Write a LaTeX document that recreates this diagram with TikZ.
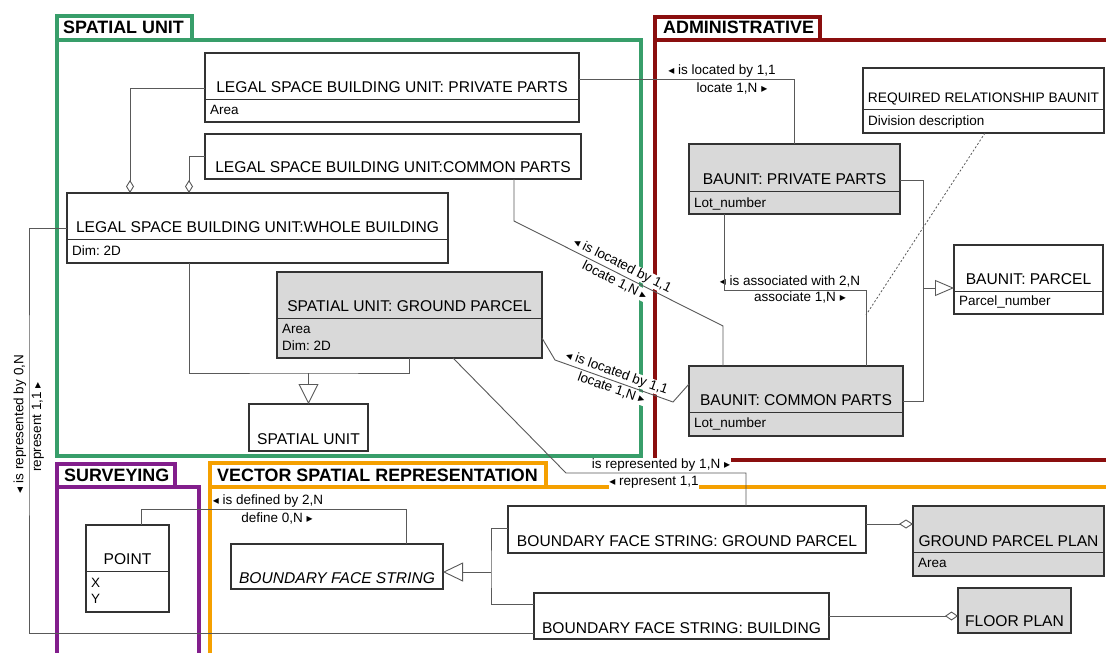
\documentclass[tikz,border=0pt]{standalone}
\usepackage{fontspec}
\setmainfont{Liberation Sans}
\newfontfamily\symf{DejaVu Sans}
\usetikzlibrary{arrows.meta}
\definecolor{frgreen}{RGB}{56,158,106}
\definecolor{frred}{RGB}{138,14,14}
\definecolor{frpurple}{RGB}{130,30,140}
\definecolor{frorange}{RGB}{245,160,0}
\definecolor{boxgray}{RGB}{217,217,217}
\newcommand{\tril}{{\symf\fontsize{12}{12}\selectfont ◂}}
\newcommand{\trir}{{\symf\fontsize{12}{12}\selectfont ▸}}
\frenchspacing
\begin{document}
\begin{tikzpicture}[x=1pt,y=-1pt,
 frame/.style={line width=3.6pt},
 cls/.style={draw=black!80, line width=1.3pt, inner sep=0pt, outer sep=0pt},
 ttl/.style={font=\fontsize{15.6}{17}\selectfont, inner sep=0pt, anchor=base},
 attr/.style={font=\fontsize{13.5}{15}\selectfont, inner sep=0pt, anchor=base west},
 divl/.style={draw=black!80, line width=1pt},
 conn/.style={draw=black!65, line width=0.9pt},
 lbl/.style={font=\fontsize{13.5}{15}\selectfont, inner sep=0.5pt},
 lblw/.style={lbl, fill=white},
 ftitle/.style={font=\bfseries\fontsize{17.9}{19}\selectfont, inner sep=0pt, anchor=base west},
 assoc/.style={draw=black!65, line width=0.8pt, dash pattern=on 2pt off 2pt},
]
\useasboundingbox[fill=white] (0,0) rectangle (1106,653);

% ---------- frames ----------
\draw[frame, frgreen] (57,16) rectangle (192,40);
\draw[frame, frgreen] (57,40) rectangle (641,456);
\draw[frame, frred] (655,17) rectangle (820,40);
\draw[frame, frred] (1106,40) -- (655,40) -- (655,460) -- (1106,460);
\draw[frame, frpurple] (57,464) rectangle (175,487);
\draw[frame, frpurple] (57,653) -- (57,487) -- (199,487) -- (199,653);
\draw[frame, frorange] (210,463) rectangle (546,487);
\draw[frame, frorange] (210,653) -- (210,487) -- (1106,487);

\node[ftitle] (tSU) at (63,34) {SPATIAL UNIT};
\node[ftitle] (tAD) at (663,34) {ADMINISTRATIVE};
\node[ftitle] (tSV) at (64,481) {SURVEYING};
\node[ftitle] (tVS) at (217,481) {VECTOR SPATIAL REPRESENTATION};

% ---------- classes ----------
\node[cls, fill=white, minimum width=374pt, minimum height=69pt] (lpp) at (392,87.5) {};
\draw[divl] (205,99) -- (579,99);
\node[ttl] (lppT) at (392,92) {LEGAL SPACE BUILDING UNIT: PRIVATE PARTS};
\node[attr] (lppA) at (210,114) {Area};

\node[cls, fill=white, minimum width=376pt, minimum height=45pt] (lcp) at (393,156.5) {};
\node[ttl] (lcpT) at (393,172) {LEGAL SPACE BUILDING UNIT:COMMON PARTS};

\node[cls, fill=white, minimum width=381pt, minimum height=70pt] (lwb) at (257.5,228) {};
\draw[divl] (67,239) -- (448,239);
\node[ttl] (lwbT) at (257.5,232) {LEGAL SPACE BUILDING UNIT:WHOLE BUILDING};
\node[attr] (lwbA) at (72,255) {Dim: 2D};

\node[cls, fill=boxgray, minimum width=265pt, minimum height=86pt] (sgp) at (409.5,315) {};
\draw[divl] (277,318) -- (542,318);
\node[ttl] (sgpT) at (409.5,311) {SPATIAL UNIT: GROUND PARCEL};
\node[attr] (sgpA) at (282,333) {Area};
\node[attr] (sgpB) at (282,350) {Dim: 2D};

\node[cls, fill=white, minimum width=119pt, minimum height=47pt] (su) at (308.5,427.5) {};
\node[ttl] (suT) at (308.5,444) {SPATIAL UNIT};

\node[cls, fill=boxgray, minimum width=211pt, minimum height=70pt] (bpp) at (794.5,179) {};
\draw[divl] (689,191) -- (900,191);
\node[ttl] (bppT) at (794.5,184) {BAUNIT: PRIVATE PARTS};
\node[attr] (bppA) at (694,207) {Lot\_number};

\node[cls, fill=white, minimum width=241pt, minimum height=65pt] (rrb) at (983.5,100.5) {};
\draw[divl] (863,109) -- (1104,109);
\node[ttl, font=\fontsize{13.8}{15}\selectfont] (rrbT) at (983.5,102) {REQUIRED RELATIONSHIP BAUNIT};
\node[attr] (rrbA) at (868,125) {Division description};

\node[cls, fill=white, minimum width=149pt, minimum height=69pt] (bpa) at (1028.5,279.5) {};
\draw[divl] (954,291) -- (1103,291);
\node[ttl] (bpaT) at (1028.5,284) {BAUNIT: PARCEL};
\node[attr] (bpaA) at (959,305) {Parcel\_number};

\node[cls, fill=boxgray, minimum width=214pt, minimum height=70pt] (bcp) at (796,401) {};
\draw[divl] (689,412) -- (903,412);
\node[ttl] (bcpT) at (796,405) {BAUNIT: COMMON PARTS};
\node[attr] (bcpA) at (694,427) {Lot\_number};

\node[cls, fill=white, minimum width=83pt, minimum height=87pt] (point) at (127.5,568.5) {};
\draw[divl] (86,571) -- (169,571);
\node[ttl] (pointT) at (127.5,564) {POINT};
\node[attr] (pointX) at (91,587) {X};
\node[attr] (pointY) at (91,603) {Y};

\node[cls, fill=white, minimum width=212pt, minimum height=45pt] (bfs) at (337,566.5) {};
\node[ttl] (bfsT) at (337,583) {\itshape BOUNDARY FACE STRING};

\node[cls, fill=white, minimum width=358pt, minimum height=47pt] (bgp) at (687,529.5) {};
\node[ttl] (bgpT) at (687,546) {BOUNDARY FACE STRING: GROUND PARCEL};

\node[cls, fill=white, minimum width=295pt, minimum height=46pt] (bbu) at (681.5,616) {};
\node[ttl] (bbuT) at (681.5,633) {BOUNDARY FACE STRING: BUILDING};

\node[cls, fill=boxgray, minimum width=191pt, minimum height=70pt] (gpp) at (1008.5,541) {};
\draw[divl] (913,552) -- (1104,552);
\node[ttl] (gppT) at (1008.5,546) {GROUND PARCEL PLAN};
\node[attr] (gppA) at (918,567) {Area};

\node[cls, fill=boxgray, minimum width=113pt, minimum height=45pt] (flp) at (1014.5,610.5) {};
\node[ttl] (flpT) at (1014.5,626) {FLOOR PLAN};

% ---------- labels (drawn before connectors) ----------
\node[lbl] (lA1) at (722,71) {\tril\ is located by 1,1};
\node[lbl] (lA2) at (732,88) {locate 1,N \trir};
\node[lbl, rotate=90] (lD1) at (20,424) {\tril\ is represented by 0,N};
\node[lbl, rotate=90] (lD2) at (38,427) {represent 1,1 \trir};
\node[lblw] (lH1) at (661,465) {is represented by 1,N \trir};
\node[lblw] (lH2) at (654,482) {\tril\ represent 1,1};
\node[lbl] (lJ1) at (790,281) {\tril\ is associated with 2,N};
\node[lbl] (lJ2) at (800,297) {associate 1,N \trir};
\node[lbl] (lL1) at (268,501) {\tril\ is defined by 2,N};
\node[lbl] (lL2) at (277,518) {define 0,N \trir};

% ---------- helper coordinates ----------
\coordinate (cD) at (29,400);
\coordinate (cE) at (308.5,373);
\coordinate (cF1) at (514,221);
\coordinate (cF2) at (723,326);
\coordinate (cG1) at (555,360);
\coordinate (cG2) at (673,402);
\coordinate (cH) at (566,473);
\coordinate (cI) at (923,288);
\coordinate (cJ) at (866,290);
\coordinate (cK) at (866,315);
\coordinate (cL) at (406,509);
\coordinate (cM) at (491,572);

% ---------- connectors ----------
\draw[conn] ([yshift=8.5pt]lpp.east) -| (bpp.north);
\draw[conn, -{Diamond[open,length=13pt,width=8pt]}] ([yshift=-0.5pt]lpp.west) -| ([xshift=-127.5pt]lwb.north);
\draw[conn, -{Diamond[open,length=13pt,width=8pt]}] ([yshift=0.5pt]lcp.west) -| ([xshift=-68.5pt]lwb.north);
\draw[conn] (lwb.west) -| (cD) |- ([yshift=-17pt]bbu.west);
\draw[conn] ([xshift=-68.5pt]lwb.south) |- (cE) -| (sgp.south);
\draw[conn, -{Triangle[open,length=20pt,width=20pt]}] (cE) -- (su.north);
\draw[conn] ([xshift=121pt]lcp.south) -- (cF1)
  -- node[lblw, sloped, above=1.5pt] (lF1) {\tril\ is located by 1,1}
     node[lblw, sloped, below=1.5pt] (lF2) {locate 1,N \trir} (cF2)
  -- ([xshift=-73pt]bcp.north);
\draw[conn] ([yshift=-23pt]sgp.east) -- (cG1)
  -- node[lblw, sloped, above=1pt] (lG1) {\tril\ is located by 1,1}
     node[lblw, sloped, below=1pt] (lG2) {locate 1,N \trir} (cG2)
  -- ([yshift=17pt]bcp.west);
\draw[conn] ([xshift=43.5pt]sgp.south) -- (cH) -| ([xshift=59pt]bgp.north);
\draw[conn] ([yshift=-1pt]bpp.east) -| (cI) |- (bcp.east);
\draw[conn, -{Triangle[open,length=19pt,width=16pt]}] (cI) -- ([yshift=-8.5pt]bpa.west);
\draw[conn] ([xshift=-70.5pt]bpp.south) |- (cJ) -- ([xshift=70pt]bcp.north);
\draw[assoc] ([xshift=1.5pt]rrb.south) -- (cK);
\draw[conn] ([xshift=13.5pt]point.north) |- (cL) -- ([xshift=69pt]bfs.north);
\draw[conn] ([yshift=1.5pt]bgp.west) -| (cM) |- ([yshift=12pt]bbu.west);
\draw[conn, -{Triangle[open,length=20pt,width=19pt]}] (cM) -- ([yshift=-5.5pt]bfs.east);
\draw[conn, -{Diamond[open,length=14pt,width=9pt]}] ([yshift=5.5pt]bgp.east) -- ([yshift=17pt]gpp.west);
\draw[conn, -{Diamond[open,length=13pt,width=9pt]}] (bbu.east) -- ([yshift=-5.5pt]flp.west);
\end{tikzpicture}
\end{document}
